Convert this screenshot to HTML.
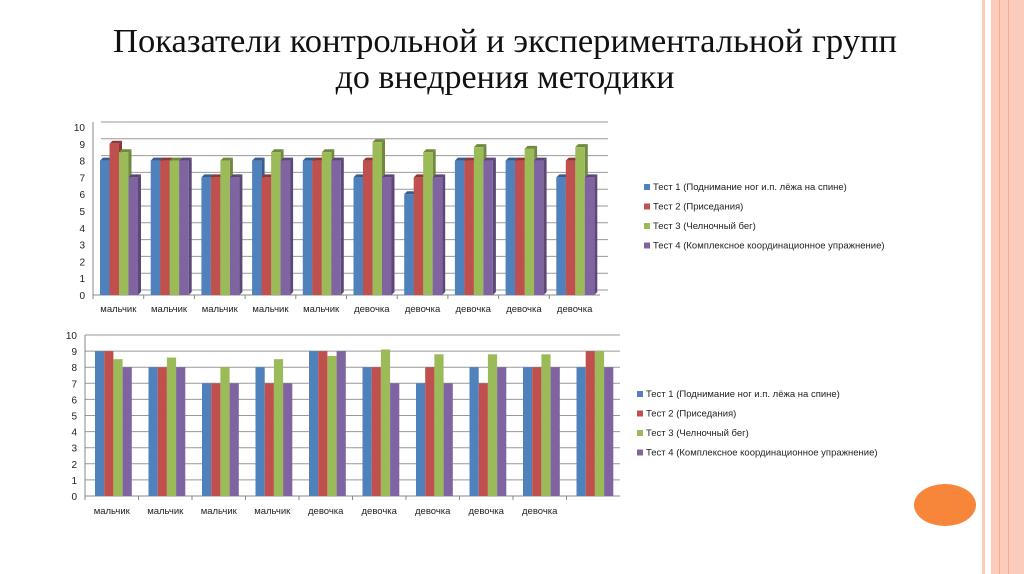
<!DOCTYPE html>
<html><head><meta charset="utf-8"><style>
body{margin:0;background:#fff;}
svg{display:block;font-family:"Liberation Sans","DejaVu Sans",sans-serif;}
</style></head><body>
<svg id="s" width="1024" height="574" viewBox="0 0 1024 574">
<rect x="982" y="0" width="3" height="574" fill="#fbcbbb"/>
<rect x="991" y="0" width="33" height="574" fill="#fbcbbb"/>
<rect x="999" y="0" width="1" height="574" fill="#f5a98f"/>
<rect x="1008" y="0" width="1" height="574" fill="#f5a98f"/>
<ellipse cx="945" cy="505" rx="31" ry="21" fill="#f7853a"/>
<text x="505" y="52" text-anchor="middle" font-family="Liberation Serif,serif" font-size="34" fill="#111" textLength="784" lengthAdjust="spacingAndGlyphs">Показатели контрольной и экспериментальной групп</text>
<text x="505" y="88" text-anchor="middle" font-family="Liberation Serif,serif" font-size="34" fill="#111">до внедрения методики</text>
<g id="top"></g>
<g id="bot"></g>
</svg>
<script>
const topCats=["мальчик","мальчик","мальчик","мальчик","мальчик","девочка","девочка","девочка","девочка","девочка"];
const topT1=[8,8,7,8,8,7,6,8,8,7];
const topT2=[9,8,7,7,8,8,7,8,8,8];
const topT3=[8.5,8,8,8.5,8.5,9.1,8.5,8.8,8.7,8.8];
const topT4=[7,8,7,8,8,7,7,8,8,7];
const botCats=["мальчик","мальчик","мальчик","мальчик","девочка","девочка","девочка","девочка","девочка",""];
const botT1=[9,8,7,8,9,8,7,8,8,8];
const botT2=[9,8,7,7,9,8,8,7,8,9];
const botT3=[8.5,8.6,8,8.5,8.7,9.1,8.8,8.8,8.8,9];
const botT4=[8,8,7,7,9,7,7,8,8,8];
const yTicks=[0,1,2,3,4,5,6,7,8,9,10];
const seriesNames=["Тест 1 (Поднимание ног и.п. лёжа на спине)","Тест 2 (Приседания)","Тест 3 (Челночный бег)","Тест 4 (Комплексное координационное упражнение)"];
const colors=["#4f81bd","#c0504d","#9bbb59","#8064a2"];
const dark=["#385d8a","#8c3836","#71893f","#5c4776"];
const NS="http://www.w3.org/2000/svg";
function mk(p,tag,a,txt){const e=document.createElementNS(NS,tag);for(const k in a)e.setAttribute(k,a[k]);if(txt!==undefined)e.textContent=txt;p.appendChild(e);return e;}

function chart(g,cfg,cats,series){
  const y=v=>cfg.y0-(v/10)*(cfg.y0-cfg.y10);
  const gw=(cfg.x1-cfg.x0)/cats.length;
  yTicks.forEach(t=>{
    const l=mk(g,'line',{x1:cfg.x0+cfg.dx,y1:y(t)-cfg.dy,x2:cfg.x1+cfg.dx,y2:y(t)-cfg.dy,stroke:'#999','stroke-width':1});
    
    
    const tx=mk(g,'text',{x:cfg.x0-8,y:y(t)+4,'text-anchor':'end','font-size':10,fill:'#222'},String(t));
    
    
  });
  const ax=mk(g,'line',{x1:cfg.x0,y1:cfg.y10-cfg.dy,x2:cfg.x0,y2:cfg.y0,stroke:'#888'});
  
  
  const bx=mk(g,'line',{x1:cfg.x0,y1:cfg.y0,x2:cfg.x1,y2:cfg.y0,stroke:'#888'});
  
  
  cats.forEach((c,i)=>{
    const gx=cfg.x0+i*gw;
    const tk=mk(g,'line',{x1:gx,y1:cfg.y0,x2:gx,y2:cfg.y0+4,stroke:'#888'});
    
    
    series.forEach((s,j)=>{
      const bxp=gx+cfg.off+j*cfg.bw;
      const top=y(s[i]);
      if(cfg.d3){
        const sd=mk(g,'polygon',{points:`${bxp+cfg.bw},${top} ${bxp+cfg.bw+3},${top-3} ${bxp+cfg.bw+3},${cfg.y0-3} ${bxp+cfg.bw},${cfg.y0}`,fill:dark[j]});
        
        
        const tp=mk(g,'polygon',{points:`${bxp},${top} ${bxp+3},${top-3} ${bxp+cfg.bw+3},${top-3} ${bxp+cfg.bw},${top}`,fill:dark[j]});
        
        
      }
      const r=mk(g,'rect',{x:bxp,y:top,width:cfg.bw,height:cfg.y0-top,fill:colors[j]});
      
      
    });
    const lb=mk(g,'text',{x:gx+gw/2,y:cfg.ly,'text-anchor':'middle','font-size':9.5,fill:'#222'},c);
    
    
  });
  seriesNames.forEach((n,j)=>{
    const yy=cfg.legY+j*19.5;
    const sq=mk(g,'rect',{x:cfg.legX,y:yy-6,width:6,height:6,fill:colors[j]});
    
    
    const t=mk(g,'text',{x:cfg.legX+9,y:yy,'font-size':9.5,fill:'#222'},n);
    
    
  });
}
chart(document.getElementById('top'),{x0:93,x1:600,y0:295,y10:127,dx:8,dy:5,off:7,bw:9.5,d3:true,ly:312,legX:644,legY:190},topCats,[topT1,topT2,topT3,topT4]);
chart(document.getElementById('bot'),{x0:85,x1:620,y0:496,y10:335,dx:0,dy:0,off:10,bw:9.2,d3:false,ly:514,legX:637,legY:397},botCats,[botT1,botT2,botT3,botT4]);
</script>
</body></html>
